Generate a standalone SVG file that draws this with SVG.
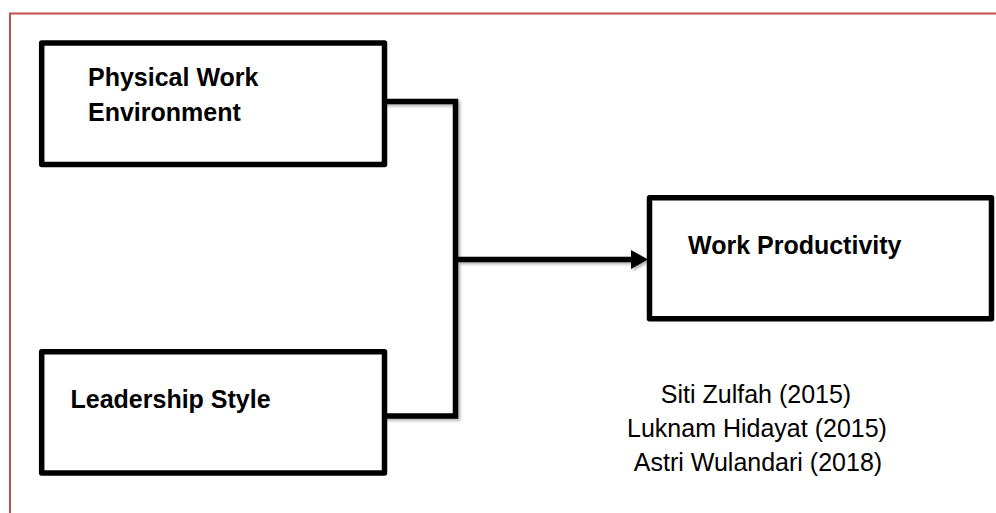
<svg xmlns="http://www.w3.org/2000/svg" width="996" height="513" viewBox="0 0 996 513">
  <defs>
    <style>
      .box { fill: #ffffff; stroke: #000000; stroke-width: 5.5; stroke-linejoin: round; }
      .lbl { font-family: "Liberation Sans", Arial, sans-serif; font-weight: bold; font-size: 25px; fill: #000000; }
      .cite { font-family: "Liberation Sans", Arial, sans-serif; font-size: 25px; fill: #000000; text-anchor: middle; }
      .conn { fill: none; stroke: #000000; stroke-width: 5.5; stroke-linejoin: miter; }
      .frame { stroke: #c0504d; stroke-width: 2; fill: none; }
    </style>
    <filter id="shadow" x="-10%" y="-10%" width="130%" height="130%">
      <feDropShadow dx="2" dy="2" stdDeviation="1.5" flood-color="#000000" flood-opacity="0.3"/>
    </filter>
  </defs>
  <rect x="0" y="0" width="996" height="513" fill="#ffffff"/>
  <g id="frame">
    <path class="frame" d="M 10 513 V 13.5 H 996"/>
  </g>
  <g id="connectors" filter="url(#shadow)">
    <path class="conn" d="M 384.5 101.5 H 455.5 V 416 H 384.5"/>
    <path class="conn" d="M 455.5 259.5 H 633"/>
    <polygon points="631,250 648,259.5 631,269" fill="#000000"/>
  </g>
  <g id="node-physical">
    <rect class="box" x="41.7" y="43" width="342.8" height="121.5"/>
    <text class="lbl" x="88" y="86">Physical Work</text>
    <text class="lbl" x="88" y="121">Environment</text>
  </g>
  <g id="node-leadership">
    <rect class="box" x="41.7" y="351.7" width="342.8" height="121.3"/>
    <text class="lbl" x="70.5" y="408">Leadership Style</text>
  </g>
  <g id="node-productivity">
    <rect class="box" x="649.5" y="197.8" width="342" height="121"/>
    <text class="lbl" x="688" y="254">Work Productivity</text>
  </g>
  <g id="citations">
    <text class="cite" x="756" y="403">Siti Zulfah (2015)</text>
    <text class="cite" x="757" y="437">Luknam Hidayat (2015)</text>
    <text class="cite" x="758" y="471">Astri Wulandari (2018)</text>
  </g>
</svg>
